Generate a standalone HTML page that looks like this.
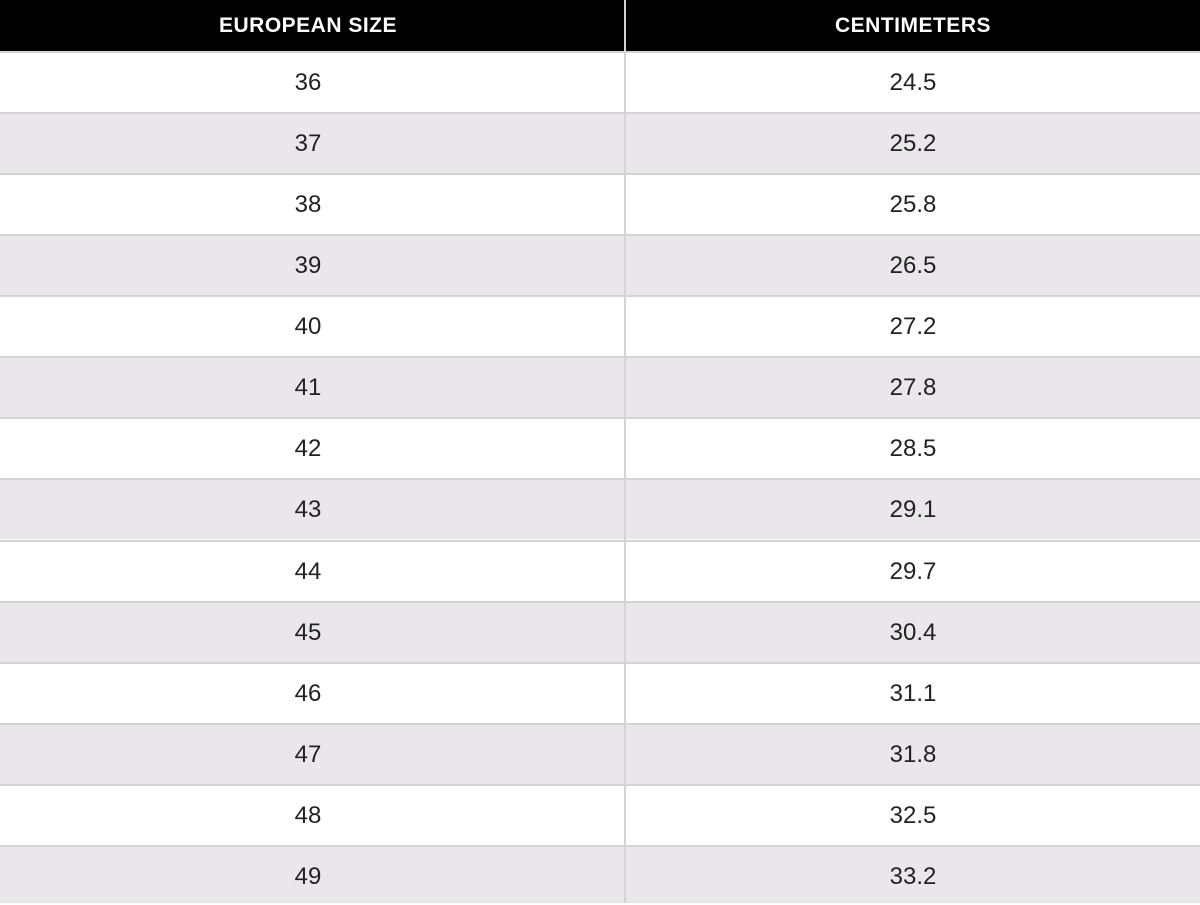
<!DOCTYPE html>
<html><head><style>
html,body{margin:0;padding:0;width:1200px;height:903px;overflow:hidden;background:#fff;font-family:"Liberation Sans",sans-serif;}
.h{position:absolute;top:0;height:51px;background:#000;color:#fff;font-weight:bold;font-size:21px;line-height:51px;text-align:center;letter-spacing:0.5px;}
.r{position:absolute;left:0;width:1200px;height:61px;border-top:2px solid #d4d4d4;box-sizing:border-box;}
.r span{position:absolute;top:1px;line-height:57px;font-size:24px;color:#222;text-align:center;}
.a{left:0;width:616px}.b{left:626px;width:574px}
.g{background:#e9e7ea}
.v{position:absolute;left:624px;top:0;width:2px;height:903px;background:#d4d4d4}
</style></head><body>
<div class="h" style="left:0;width:616px">EUROPEAN SIZE</div>
<div class="h" style="left:626px;width:574px">CENTIMETERS</div>
<div class="h" style="left:616px;width:8px"></div>
<div class="r" style="top:51px"><span class="a">36</span><span class="b">24.5</span></div>
<div class="r g" style="top:112px"><span class="a">37</span><span class="b">25.2</span></div>
<div class="r" style="top:173px"><span class="a">38</span><span class="b">25.8</span></div>
<div class="r g" style="top:234px"><span class="a">39</span><span class="b">26.5</span></div>
<div class="r" style="top:295px"><span class="a">40</span><span class="b">27.2</span></div>
<div class="r g" style="top:356px"><span class="a">41</span><span class="b">27.8</span></div>
<div class="r" style="top:417px"><span class="a">42</span><span class="b">28.5</span></div>
<div class="r g" style="top:478px"><span class="a">43</span><span class="b">29.1</span></div>
<div class="r" style="top:540px"><span class="a">44</span><span class="b">29.7</span></div>
<div class="r g" style="top:601px"><span class="a">45</span><span class="b">30.4</span></div>
<div class="r" style="top:662px"><span class="a">46</span><span class="b">31.1</span></div>
<div class="r g" style="top:723px"><span class="a">47</span><span class="b">31.8</span></div>
<div class="r" style="top:784px"><span class="a">48</span><span class="b">32.5</span></div>
<div class="r g" style="top:845px;height:58px"><span class="a">49</span><span class="b">33.2</span></div>
<div class="v"></div>
</body></html>
